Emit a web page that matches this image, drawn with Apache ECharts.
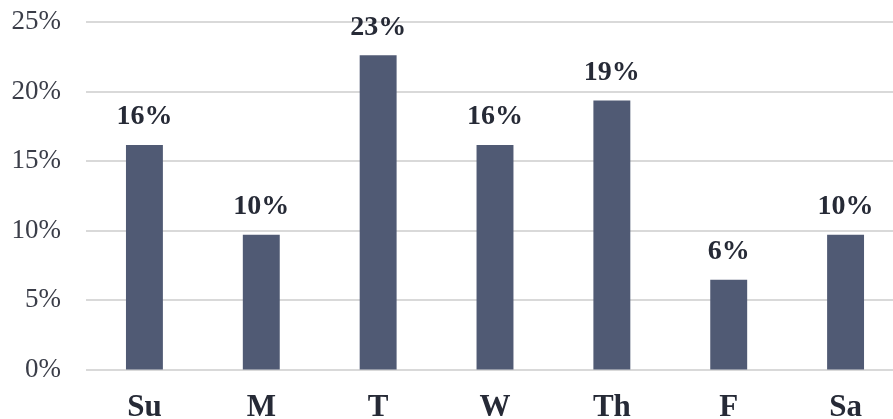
<!DOCTYPE html>
<html>
<head>
<meta charset="utf-8">
<script src="https://cdn.jsdelivr.net/npm/echarts@6/dist/echarts.min.js"></script>
<style>
  html, body { margin: 0; padding: 0; background: #fff; }
  #chart { width: 893px; height: 419px; }
</style>
</head>
<body>
<div id="chart"></div>
<script>
// Share of visits by day of week
const days = ['Su', 'M', 'T', 'W', 'Th', 'F', 'Sa'];
const shares = [16.15, 9.7, 22.6, 16.15, 19.35, 6.45, 9.7];
const yTicks = [0, 5, 10, 15, 20, 25];

const serif = '"Liberation Serif", "DejaVu Serif", serif';
const chart = echarts.init(document.getElementById('chart'), null, { renderer: 'canvas' });

chart.setOption({
  animation: false,
  grid: {
    left: 86, top: 22, width: 818, bottom: 49.5,
    containLabel: false,
    outerBoundsMode: 'none'
  },
  xAxis: {
    type: 'category',
    data: days,
    axisLine: { show: false },
    axisTick: { show: false },
    axisLabel: {
      margin: 23,
      fontFamily: serif,
      fontWeight: 'bold',
      fontSize: 31,
      color: '#262a36'
    }
  },
  yAxis: {
    type: 'value',
    min: yTicks[0],
    max: yTicks[yTicks.length - 1],
    interval: 5,
    axisLine: { show: false },
    axisTick: { show: false },
    splitLine: { lineStyle: { color: '#d9d9d9', width: 2 } },
    axisLabel: {
      margin: 25,
      fontFamily: serif,
      fontSize: 27,
      color: '#3a3d48',
      formatter: v => v + '%'
    }
  },
  series: [{
    type: 'bar',
    data: shares,
    barWidth: '31.6%',
    itemStyle: { color: '#505a74' },
    label: {
      show: true,
      position: 'top',
      distance: 14,
      fontFamily: serif,
      fontWeight: 'bold',
      fontSize: 28,
      color: '#262a36',
      formatter: p => Math.round(p.value) + '%'
    }
  }]
});
</script>
</body>
</html>
